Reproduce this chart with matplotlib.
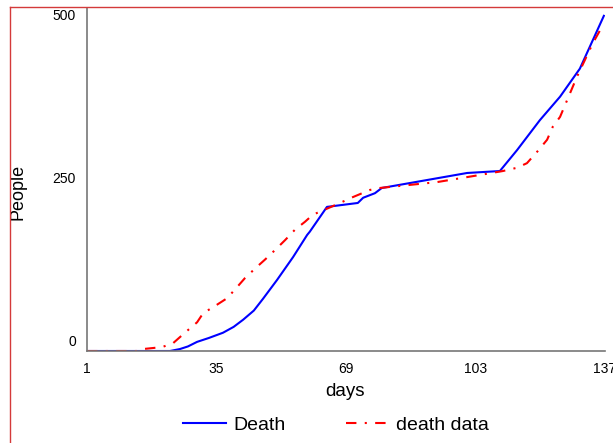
import matplotlib
matplotlib.use("Agg")
import matplotlib.pyplot as plt
from matplotlib.lines import Line2D
from matplotlib.transforms import ScaledTranslation

plt.rcParams['font.family'] = ['Liberation Sans', 'DejaVu Sans']

# Model curve "Death"
death_days = [1, 22.8, 25.4, 27.5, 29.9, 33.0, 36.7, 39.5, 42.0, 44.8, 47.2, 50.9, 55.1,
              58.8, 59.5, 64.0, 72.1, 73.5, 76.6, 78.4, 100.8, 109.4, 113.9, 119.9,
              125.2, 130.4, 136.7]
death_vals = [0, 0, 3, 7, 14, 20, 28, 37, 48, 62, 80, 109, 144,
              178, 183, 221, 227, 235, 242, 250, 273, 276, 308, 354,
              390, 433, 514]

# Observed "death data"
data_days = [1, 14.0, 15.7, 20.7, 23.6, 26.7, 29.9, 31.5, 34.6, 37.8, 40.4, 42.5, 45.6,
             47.7, 50.4, 53.0, 55.6, 58.2, 60.3, 64.3, 67.4, 70.8, 75.3, 77.9,
             92.9, 104.2, 110.2, 113.9, 116.5, 119.4, 121.8, 123.3, 125.2, 129.6,
             133.8, 136.2, 137]
data_vals = [0, 0, 3, 6, 12, 28, 44, 58, 69, 81, 98, 112, 129,
             140, 155, 170, 186, 198, 209, 219, 227, 236, 247, 250,
             259, 270, 276, 281, 288, 307, 324, 344, 359, 420,
             472, 497, 500]

xticks = [1, 35, 69, 103, 137]
yticks = [0, 250, 500]

fig = plt.figure(figsize=(6.13, 4.43), dpi=100)
ax = fig.add_axes([87/613, 1-351/443, 518/613, 343/443])

l1, = ax.plot(death_days, death_vals, color='#0000ff', lw=1.5, label='Death')
l2, = ax.plot(data_days, data_vals, color='#ff0000', lw=1.5, label='death data',
              dashes=(5, 4, 1, 4))

ax.set_xlim(1, 137)
ax.set_ylim(0, 526)
ax.set_xticks(xticks)
ax.set_yticks(yticks)
ax.tick_params(length=0, labelsize=10, colors='black')
ax.tick_params(axis='x', pad=8)
ax.tick_params(axis='y', pad=8)
for lab in ax.get_yticklabels():
    lab.set_transform(lab.get_transform() + ScaledTranslation(0, 0.10, fig.dpi_scale_trans))

for s in ['top', 'right']:
    ax.spines[s].set_visible(False)
for s in ['left', 'bottom']:
    ax.spines[s].set_color('#777777')
    ax.spines[s].set_linewidth(1.2)

ax.set_xlabel('days', fontsize=13.5)
ax.xaxis.set_label_coords(0.498, -(391-351)/343)
ax.xaxis.label.set_va('center')
ax.set_ylabel('People', fontsize=13)
ax.yaxis.set_label_coords((18-87)/518, (351-192)/343)
ax.yaxis.label.set_va('center')

fig.legend(handles=[l1, l2], loc='center', bbox_to_anchor=(336/613, 1-425/443),
           ncol=2, frameon=False, fontsize=14, handlelength=2.2,
           handletextpad=0.4, columnspacing=3.1)

border_color = '#d43a3a'
fig.add_artist(Line2D([9.5/613, 9.5/613], [0, 1-6.5/443], transform=fig.transFigure,
                      color=border_color, lw=1))
fig.add_artist(Line2D([9.5/613, 1], [1-6.5/443, 1-6.5/443], transform=fig.transFigure,
                      color=border_color, lw=1))

fig.savefig('out.png', dpi=100)
